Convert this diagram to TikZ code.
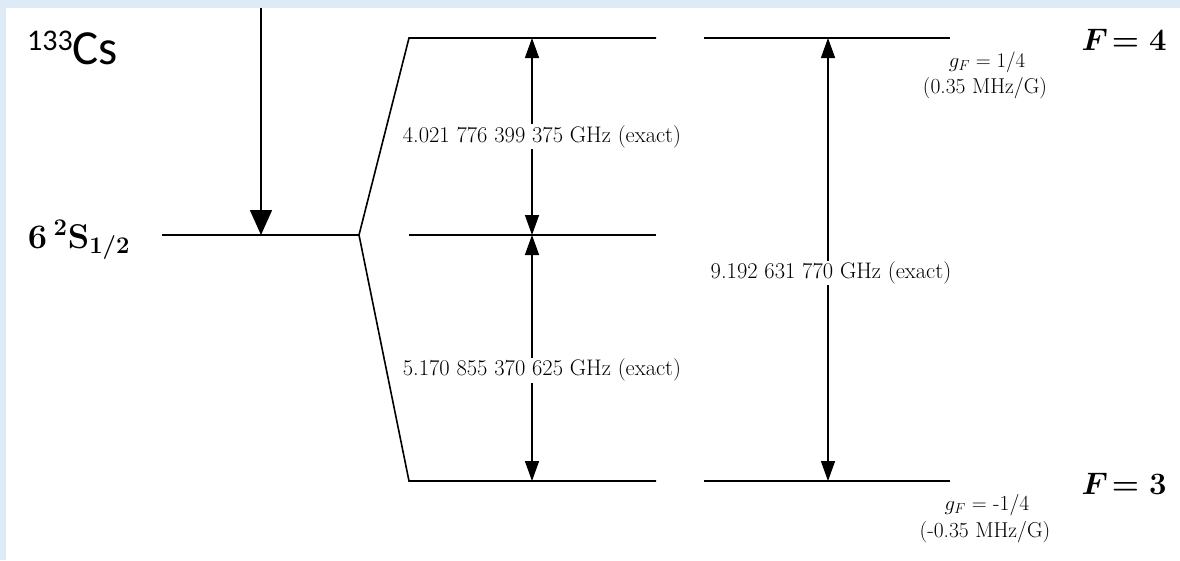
\documentclass[tikz,border=0pt]{standalone}
\usepackage{fontspec}
\newfontfamily\calibri{Carlito}
\usetikzlibrary{arrows.meta}
\definecolor{bgblue}{RGB}{222,234,246}
\newcommand{\csbig}{\fontsize{49}{52}\selectfont}
\newcommand{\cssup}{\fontsize{30}{31}\selectfont}
\newcommand{\termfont}{\fontsize{24}{28}\selectfont\boldmath}
\begin{document}
\begin{tikzpicture}[x=1pt,y=-1pt,
  level/.style={line width=1.6pt},
  dbl/.style={line width=1.5pt, {Triangle[length=20pt,width=14pt]}-{Triangle[length=20pt,width=14pt]}},
  lbl/.style={fill=white, inner sep=1pt, font=\fontsize{22.5}{26}\selectfont},
  gf/.style={inner sep=0pt, font=\fontsize{21.5}{24}\selectfont},
  fstate/.style={inner sep=0pt, scale=1.25, font=\fontsize{24}{28}\selectfont\boldmath}]
\useasboundingbox (0,0) rectangle (1180,560);
\fill[bgblue] (0,0) rectangle (1180,560);
\fill[white] (6,8) rectangle (1180,560);
% coordinates
\coordinate (in) at (261,8);
\coordinate (sL) at (162,235);
\coordinate (sR) at (359,235);
\coordinate (sIn) at (261,235);
\coordinate (tL) at (409,38);
\coordinate (tM) at (656,38);
\coordinate (tN) at (704,38);
\coordinate (tR) at (950,38);
\coordinate (mL) at (409,235);
\coordinate (mR) at (656,235);
\coordinate (bL) at (409,481);
\coordinate (bM) at (656,481);
\coordinate (bN) at (704,481);
\coordinate (bR) at (950,481);
\coordinate (a1t) at (532,38);
\coordinate (a1m) at (532,235);
\coordinate (a2b) at (532,481);
\coordinate (a3t) at (828,38);
\coordinate (a3b) at (828,481);
% levels
\draw[level] (sL) -- (sR);
\draw[level, line join=miter] (tM) -- (tL) -- (sR) -- (bL) -- (bM);
\draw[level] (mL) -- (mR);
\draw[level] (tN) -- (tR);
\draw[level] (bN) -- (bR);
% incoming arrow
\draw[line width=1.6pt, -{Triangle[length=25pt,width=22pt]}] (in) -- (sIn);
% splitting arrows
\draw[dbl] (a1m) -- node[lbl, xshift=10pt] (l1) {4.021 776 399 375 GHz (exact)} (a1t);
\draw[dbl] (a1m) -- node[lbl, xshift=10pt, pos=0.55] (l2) {5.170 855 370 625 GHz (exact)} (a2b);
\draw[dbl] (a3t) -- node[lbl, xshift=3pt, pos=0.53] (l3) {9.192 631 770 GHz (exact)} (a3b);
% labels
\node[inner sep=0pt, anchor=west, font=\calibri] (cs) at (27,48) {\csbig\raisebox{14pt}{\cssup 133}Cs};
\node[inner sep=0pt, scale=1.38, font=\termfont] (sterm) at (79,240) {$6\,^{2}\mathbf{S}_{1/2}$};
\node[fstate] (f4) at (1124,40) {$F\!=4$};
\node[fstate] (f3) at (1124,484) {$F\!=3$};
\node[gf] (g4) at (987,62) {$g_F=1/4$};
\node[gf] (m4) at (985,88) {(0.35 MHz/G)};
\node[gf] (g3) at (987,505) {$g_F=$ -1/4};
\node[gf] (m3) at (985,532) {(-0.35 MHz/G)};
\end{tikzpicture}
\end{document}
